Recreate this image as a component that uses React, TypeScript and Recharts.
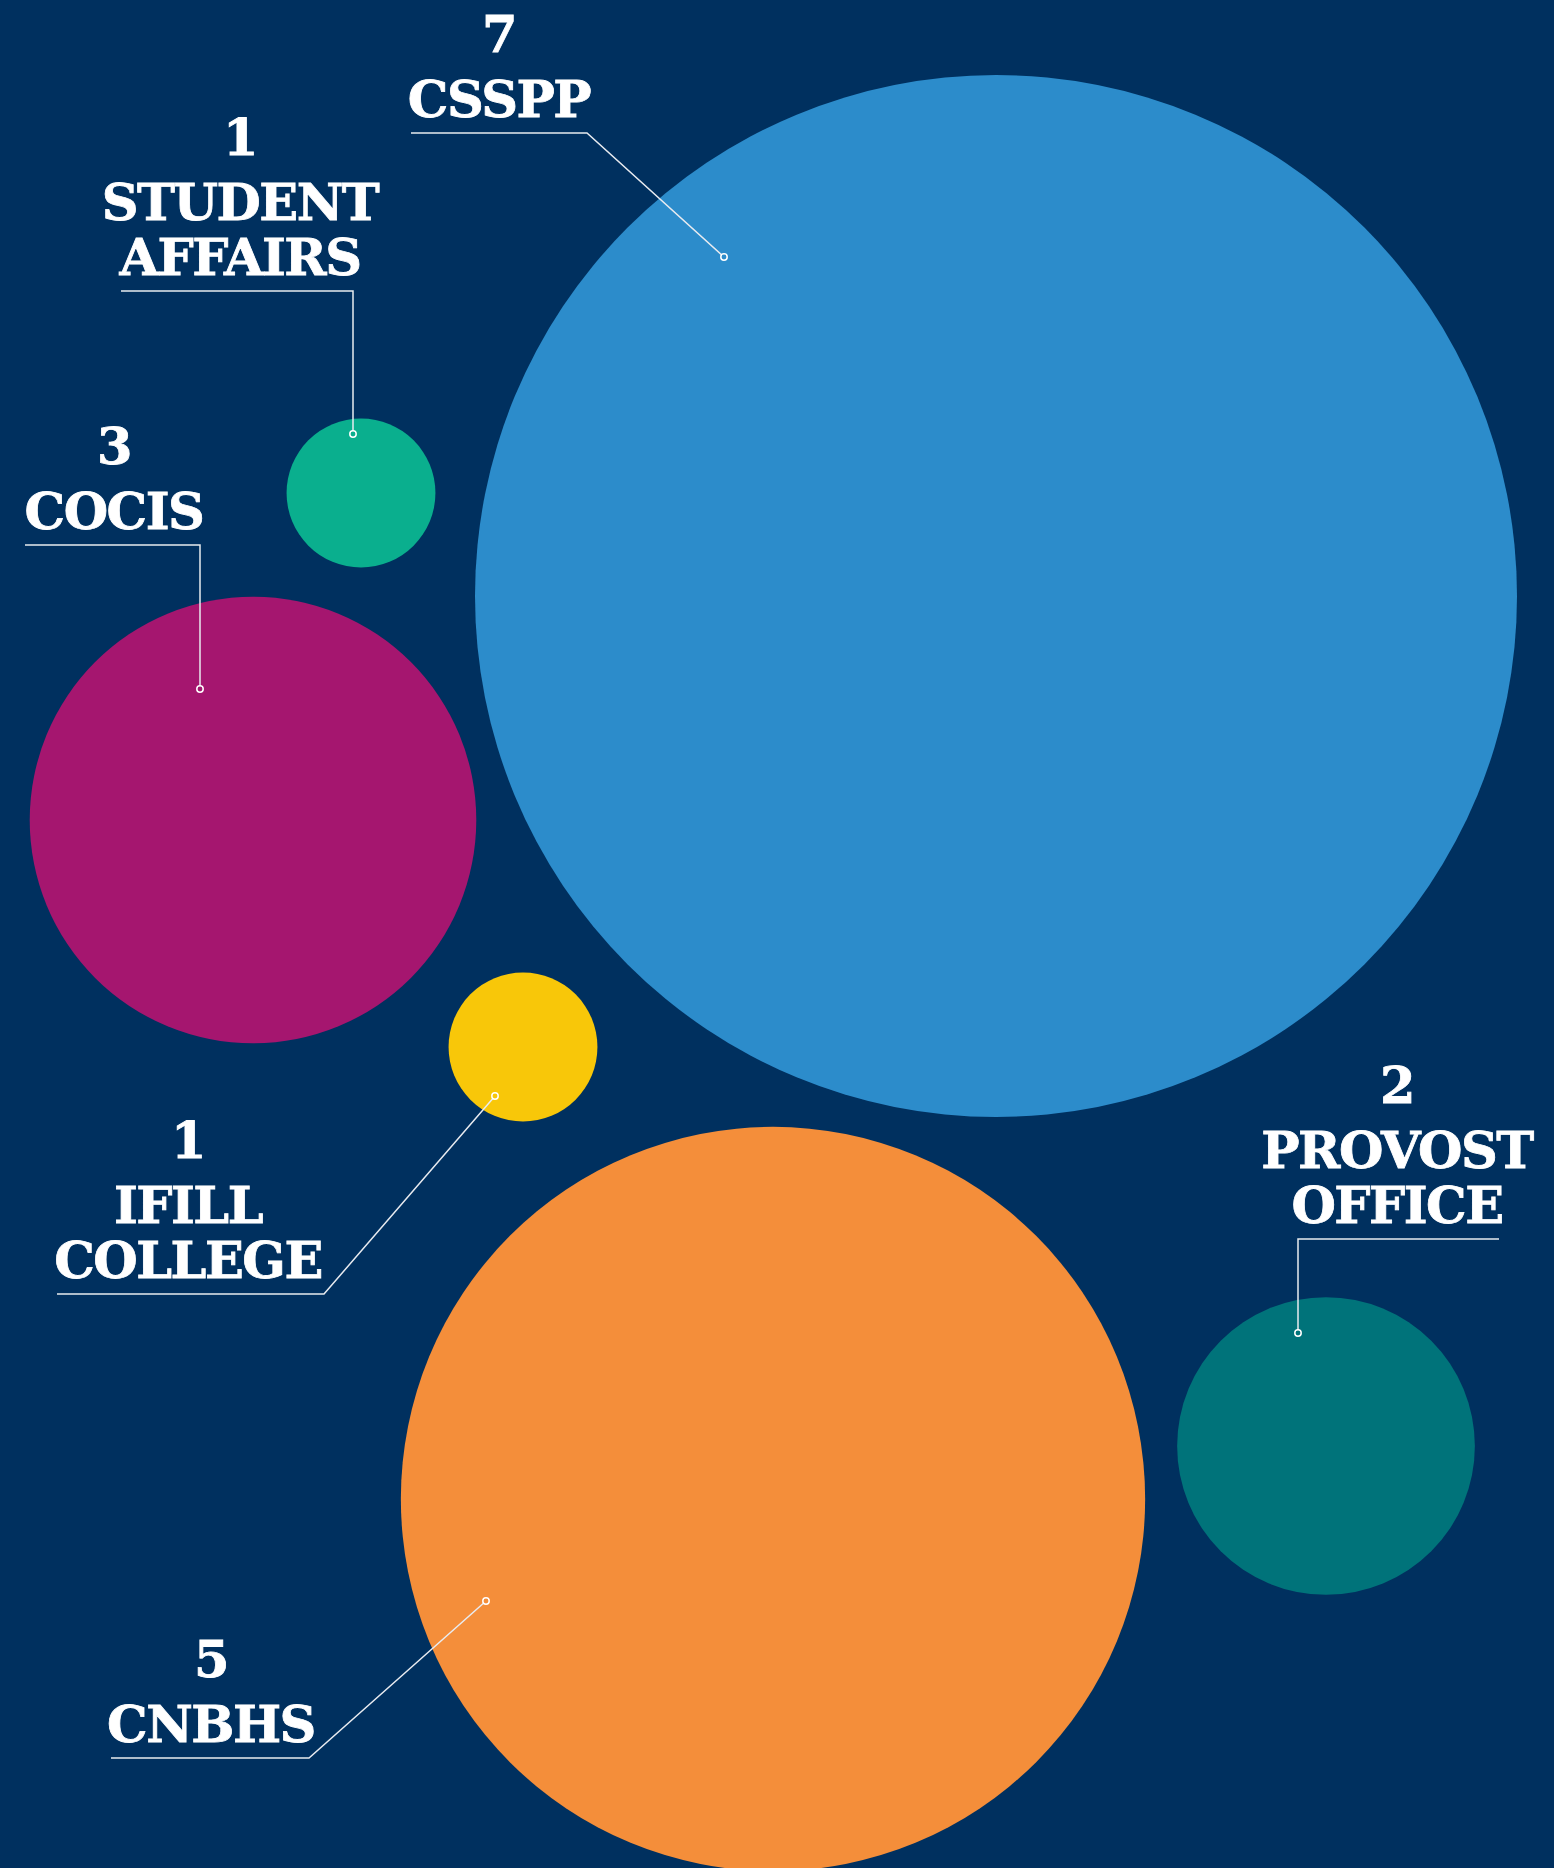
import { ScatterChart, Scatter, XAxis, YAxis, ZAxis } from "recharts";

const W = 1554;
const H = 1868;
const BG = "#00305f";

// bubbles: one per unit, sized by count
const units = ["CSSPP", "STUDENT AFFAIRS", "COCIS", "IFILL COLLEGE", "PROVOST OFFICE", "CNBHS"];
const counts = [7, 1, 3, 1, 2, 5];
const posX = [996, 361, 253, 523, 1326, 773];
const posY = [596, 493, 820, 1047, 1446, 1499];
const nameLines = [
  ["CSSPP"],
  ["STUDENT", "AFFAIRS"],
  ["COCIS"],
  ["IFILL", "COLLEGE"],
  ["PROVOST", "OFFICE"],
  ["CNBHS"],
];

const COLORS = ["#2c8ccb", "#0aaf8e", "#a5166f", "#f8c709", "#00737a", "#f48e3a"];

// callout layout, in chart units
const labelX = [499, 240, 114, 188, 1397, 211];
const labelY = [52, 155, 464, 1158, 1103, 1677];
const ruleFrom = [411, 121, 25, 57, 1499, 111];
const ruleTo = [587, 353, 200, 324, 1298, 309];
const pinX = [724, 353, 200, 495, 1298, 486];
const pinY = [257, 434, 689, 1096, 1333, 1601];

const bubbles = units.map((name, i) => ({
  name,
  count: counts[i],
  x: posX[i],
  y: posY[i],
  color: COLORS[i],
}));

const callouts = units.map((name, i) => ({
  name,
  count: counts[i],
  lines: nameLines[i],
  x: labelX[i],
  y: labelY[i],
  ruleFrom: ruleFrom[i],
  ruleTo: ruleTo[i],
  pinX: pinX[i],
  pinY: pinY[i],
  color: COLORS[i],
}));

const FONT = "'DejaVu Serif', serif";

const textStyle = {
  textAnchor: "middle" as const,
  fill: "#fff",
  stroke: "#fff",
  strokeWidth: 0.8,
  fontFamily: FONT,
  fontWeight: "bold",
  fontSize: 51,
  letterSpacing: -1.5,
};

function Bubble(props: any) {
  const { cx, cy, size, payload } = props;
  return <circle cx={cx} cy={cy} r={size} fill={payload.color} />;
}

function Callout(props: any) {
  const { cx, cy, payload } = props;
  // chart units map 1:1 to pixels, so offsets can be taken directly
  const dx = (v: number) => cx + (v - payload.x);
  const dy = (v: number) => cy + (v - payload.y);
  const lines: string[] = payload.lines;
  const lastBase = cy + 65 + 55 * (lines.length - 1);
  const ruleY = lastBase + 16;
  const px = dx(payload.pinX);
  const py = dy(payload.pinY);
  return (
    <g>
      <text x={cx} y={cy} {...textStyle}>
        {payload.count}
      </text>
      {lines.map((ln, i) => (
        <text key={ln} x={cx} y={cy + 65 + 55 * i} {...textStyle}>
          {ln}
        </text>
      ))}
      <polyline
        points={`${dx(payload.ruleFrom)},${ruleY} ${dx(payload.ruleTo)},${ruleY} ${px},${py}`}
        fill="none"
        stroke="#e8ebf0"
        strokeWidth={1.5}
      />
      <circle cx={px} cy={py} r={3.2} fill={payload.color} stroke="#fff" strokeWidth={1.5} />
    </g>
  );
}

export default function App() {
  return (
    <div style={{ width: W, height: H, background: BG }}>
      <style>{"body{margin:0;background:" + BG + ";}"}</style>
      <ScatterChart
        width={W}
        height={H}
        margin={{ top: 0, right: 0, bottom: 0, left: 0 }}
        style={{ background: BG }}
      >
        <XAxis type="number" dataKey="x" domain={[0, W]} hide />
        <YAxis type="number" dataKey="y" domain={[0, H]} reversed hide />
        <ZAxis type="number" dataKey="count" domain={[0, 7]} range={[0, 521]} />
        <Scatter data={bubbles} shape={<Bubble />} isAnimationActive={false} />
        <Scatter data={callouts} shape={<Callout />} isAnimationActive={false} />
      </ScatterChart>
    </div>
  );
}
